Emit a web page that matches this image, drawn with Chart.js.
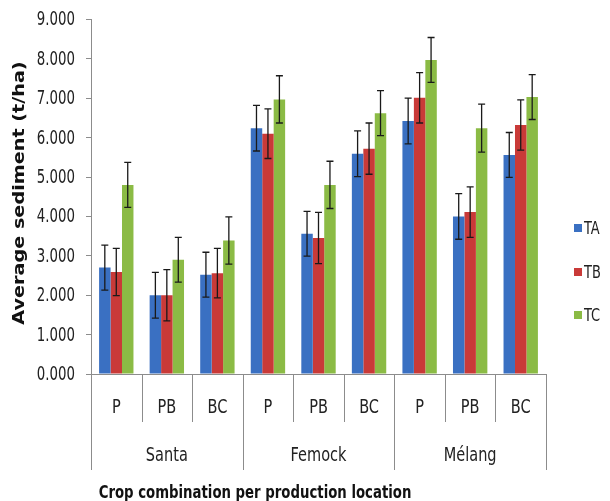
<!DOCTYPE html>
<html>
<head>
<meta charset="utf-8">
<script src="https://cdn.jsdelivr.net/npm/chart.js@4/dist/chart.umd.min.js"></script>
<style>
  html, body { margin: 0; padding: 0; background: #fff; }
  #wrap { width: 610px; height: 501px; }
</style>
</head>
<body>
<div id="wrap"><canvas id="sedChart" width="610" height="501"></canvas></div>
<script>
// --- data ---
const locations = ['Santa', 'Femock', 'Mélang'];
const crops = ['P', 'PB', 'BC'];
const seriesNames = ['TA', 'TB', 'TC'];

const taValues = [2.70, 2.00, 2.52, 6.24, 3.56, 5.59, 6.42, 4.00, 5.56];
const tbValues = [2.59, 2.00, 2.56, 6.10, 3.45, 5.72, 7.01, 4.11, 6.32];
const tcValues = [4.80, 2.90, 3.39, 6.97, 4.80, 6.62, 7.97, 6.24, 7.03];

// standard error (half bar length)
const taErr = [0.57, 0.58, 0.57, 0.58, 0.57, 0.58, 0.58, 0.58, 0.57];
const tbErr = [0.60, 0.65, 0.63, 0.63, 0.65, 0.65, 0.64, 0.64, 0.64];
const tcErr = [0.57, 0.57, 0.60, 0.60, 0.60, 0.57, 0.57, 0.61, 0.57];

// one label per bar group: crop x location
const labels = [];
locations.forEach((loc) => crops.forEach((c) => labels.push(c)));

const colors = { TA: '#3a70c2', TB: '#c93a38', TC: '#8bbb45' };
const axisGray = '#8c8c8c';
const narrow = "'Liberation Sans Narrow', 'DejaVu Sans Condensed', 'Open Sans', sans-serif";

// the original uses a tall, narrow font -> squeeze text horizontally
function squeezedText(ctx, text, x, y, sx) {
  ctx.save();
  ctx.translate(x, y);
  ctx.scale(sx, 1);
  ctx.fillText(text, 0, 0);
  ctx.restore();
}

// error bars drawn through the y scale
const errorBars = {
  id: 'errorBars',
  afterDatasetsDraw(chart) {
    const { ctx, scales: { y } } = chart;
    ctx.save();
    ctx.strokeStyle = '#1a1a1a';
    ctx.lineWidth = 1.3;
    chart.data.datasets.forEach((ds, di) => {
      const meta = chart.getDatasetMeta(di);
      meta.data.forEach((bar, i) => {
        const v = ds.data[i], e = ds.errors[i];
        const top = y.getPixelForValue(v + e);
        const bot = y.getPixelForValue(v - e);
        ctx.beginPath();
        ctx.moveTo(bar.x, top); ctx.lineTo(bar.x, bot);
        ctx.moveTo(bar.x - 3.5, top); ctx.lineTo(bar.x + 3.5, top);
        ctx.moveTo(bar.x - 3.5, bot); ctx.lineTo(bar.x + 3.5, bot);
        ctx.stroke();
      });
    });
    ctx.restore();
  }
};

// two-level category axis, y tick labels, titles and legend
const decorations = {
  id: 'decorations',
  afterDraw(chart) {
    const { ctx, chartArea, scales: { x, y } } = chart;
    const base = chartArea.bottom;
    ctx.save();

    // separators between categories
    ctx.strokeStyle = axisGray;
    ctx.lineWidth = 1;
    for (let b = 0; b <= labels.length; b++) {
      let px;
      if (b === 0) px = chartArea.left;
      else if (b === labels.length) px = chartArea.right;
      else px = (x.getPixelForValue(b - 1) + x.getPixelForValue(b)) / 2;
      const long = b % crops.length === 0;
      ctx.beginPath();
      ctx.moveTo(Math.round(px) + 0.5, base);
      ctx.lineTo(Math.round(px) + 0.5, long ? base + 96 : base + 48);
      ctx.stroke();
    }

    ctx.fillStyle = '#222';
    ctx.textBaseline = 'middle';

    // y tick labels
    ctx.textAlign = 'right';
    ctx.font = '19px ' + narrow;
    y.ticks.forEach((t) => {
      squeezedText(ctx, t.value.toFixed(3), 75, y.getPixelForValue(t.value) + 1, 0.78);
    });

    // crop labels
    ctx.textAlign = 'center';
    ctx.font = '19px ' + narrow;
    labels.forEach((lab, i) => squeezedText(ctx, lab, x.getPixelForValue(i), base + 34, 0.85));

    // location labels
    locations.forEach((loc, g) => {
      const a = x.getPixelForValue(g * crops.length);
      const b = x.getPixelForValue(g * crops.length + crops.length - 1);
      squeezedText(ctx, loc, (a + b) / 2, base + 82, 0.85);
    });

    // x title
    ctx.fillStyle = '#111';
    ctx.font = 'bold 18px ' + narrow;
    squeezedText(ctx, 'Crop combination per production location', 255, base + 119, 0.82);

    // y title
    ctx.save();
    ctx.translate(20, 193);
    ctx.rotate(-Math.PI / 2);
    ctx.font = 'bold 16px "DejaVu Sans", sans-serif';
    squeezedText(ctx, 'Average sediment (t/ha)', 0, 0, 1.2);
    ctx.restore();

    // legend
    ctx.textAlign = 'left';
    ctx.font = '18px ' + narrow;
    const legendY = [228, 272, 315];
    seriesNames.forEach((name, i) => {
      ctx.fillStyle = colors[name];
      ctx.fillRect(574, legendY[i] - 4, 8, 8);
      ctx.fillStyle = '#222';
      squeezedText(ctx, name, 584, legendY[i] + 1, 0.8);
    });

    ctx.restore();
  }
};

new Chart(document.getElementById('sedChart'), {
  type: 'bar',
  data: {
    labels: labels,
    datasets: [
      { label: 'TA', data: taValues, errors: taErr, backgroundColor: colors.TA },
      { label: 'TB', data: tbValues, errors: tbErr, backgroundColor: colors.TB },
      { label: 'TC', data: tcValues, errors: tcErr, backgroundColor: colors.TC },
    ],
  },
  options: {
    responsive: false,
    animation: false,
    layout: { padding: { top: 18, right: 64, bottom: 0, left: 0 } },
    datasets: { bar: { barPercentage: 1.0, categoryPercentage: 0.68 } },
    plugins: { legend: { display: false }, tooltip: { enabled: false } },
    scales: {
      x: {
        ticks: { display: false },
        grid: { display: false },
        border: { color: axisGray },
        afterFit: (s) => { s.height = 127; },
      },
      y: {
        min: 0,
        max: 9,
        ticks: {
          stepSize: 1,
          color: 'rgba(0,0,0,0)', // drawn squeezed by the plugin above
          padding: 8,
          font: { family: narrow, size: 19 },
          callback: (v) => v.toFixed(3),
        },
        grid: { drawOnChartArea: false, drawTicks: true, tickLength: 5, color: axisGray },
        border: { color: axisGray },
        afterFit: (s) => { s.width = 91; },
      },
    },
  },
  plugins: [errorBars, decorations],
});
</script>
</body>
</html>
